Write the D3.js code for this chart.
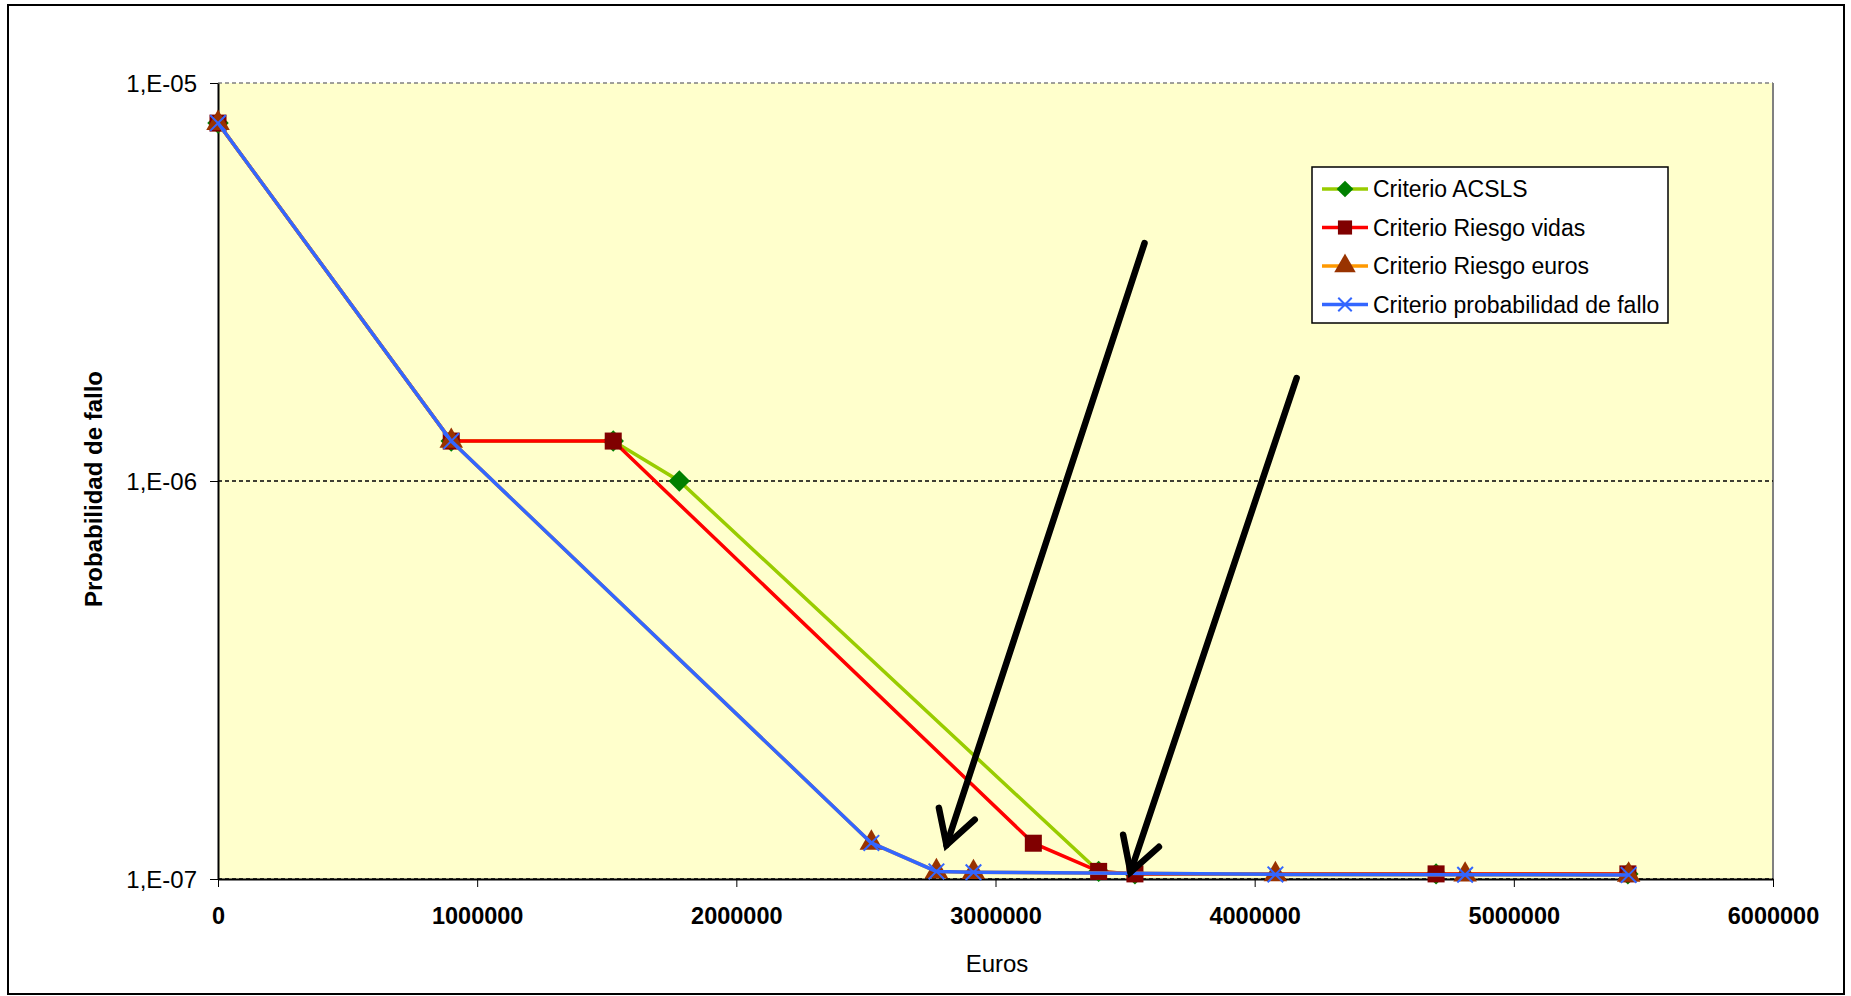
<!DOCTYPE html>
<html><head><meta charset="utf-8">
<script src="https://cdn.jsdelivr.net/npm/d3@7"></script>
<style>body{margin:0;background:#fff}svg{display:block;font-family:"Liberation Sans",Arial,sans-serif}</style>
</head><body><svg id="c" width="1851" height="996"></svg>
<script>
// ---- data ----
const seriesNames = ["Criterio ACSLS","Criterio Riesgo vidas","Criterio Riesgo euros","Criterio probabilidad de fallo"];
const xACSLS = [0, 900000, 1525000, 1780000, 3398000, 3538000, 4700000, 5440000];
const yACSLS = [7.93e-6, 1.26e-6, 1.26e-6, 1.0e-6, 1.045e-7, 1.03e-7, 1.03e-7, 1.03e-7];
const xVidas = [0, 900000, 1525000, 3146000, 3398000, 3538000, 4700000, 5440000];
const yVidas = [7.93e-6, 1.26e-6, 1.26e-6, 1.23e-7, 1.045e-7, 1.03e-7, 1.03e-7, 1.03e-7];
const xEuros = [0, 900000, 2521000, 2772000, 2915000, 4080000, 4812000, 5443000];
const yEuros = [7.93e-6, 1.26e-6, 1.232e-7, 1.045e-7, 1.04e-7, 1.027e-7, 1.025e-7, 1.024e-7];
const xProb = [0, 900000, 2521000, 2772000, 2915000, 4080000, 4812000, 5443000];
const yProb = [7.93e-6, 1.26e-6, 1.232e-7, 1.045e-7, 1.04e-7, 1.027e-7, 1.025e-7, 1.024e-7];
const xTicks = [0, 1000000, 2000000, 3000000, 4000000, 5000000, 6000000];
const yTicks = [1e-7, 1e-6, 1e-5];
const yTickLabels = ["1,E-07", "1,E-06", "1,E-05"];
// annotation arrows in data units
const arrowStart = [[3575000, 3.96e-6], [4162000, 1.815e-6]];
const arrowEnd = [[2811000, 1.217e-7], [3521000, 1.041e-7]];

const svg = d3.select("#c");
const L = 218, R = 1773, T = 83, B = 879;
const x = d3.scaleLinear().domain([0, 6000000]).range([L, R]);
const y = d3.scaleLog().domain([1e-7, 1e-5]).range([B, T]);

svg.append("rect").attr("x", 8).attr("y", 5).attr("width", 1836).attr("height", 989)
  .attr("fill", "#fff").attr("stroke", "#000").attr("stroke-width", 2);
svg.append("rect").attr("x", L).attr("y", T).attr("width", R - L).attr("height", B - T).attr("fill", "#FFFFCC");
svg.append("line").attr("x1", R).attr("x2", R).attr("y1", T).attr("y2", B).attr("stroke", "#808080").attr("stroke-width", 2);
svg.append("g").selectAll("line").data(yTicks).join("line")
  .attr("x1", L).attr("x2", R).attr("y1", d => y(d)).attr("y2", d => y(d))
  .attr("stroke", d => d === 1e-5 ? "#808080" : "#000").attr("stroke-width", 1.3)
  .attr("stroke-dasharray", "4,3");

const ax = svg.append("g").attr("transform", `translate(0,${B})`)
  .call(d3.axisBottom(x).tickValues(xTicks).tickFormat(d3.format("d")).tickSize(8).tickSizeOuter(0));
ax.select(".domain").attr("stroke", "#000").attr("stroke-width", 2);
ax.selectAll("text").attr("font-size", "23.5px").attr("font-weight", "bold").attr("fill", "#000").attr("dy", "1.45em");
const ay = svg.append("g").attr("transform", `translate(${L},0)`)
  .call(d3.axisLeft(y).tickValues(yTicks).tickFormat((d, i) => yTickLabels[i]).tickSize(8).tickSizeOuter(0));
ay.select(".domain").attr("stroke", "#000").attr("stroke-width", 2);
ay.selectAll("text").attr("font-size", "24px").attr("fill", "#000").attr("x", -21).attr("dy", "0.35em");

svg.append("text").attr("x", 997).attr("y", 972).attr("text-anchor", "middle").attr("font-size", "24px").text("Euros");
svg.append("text").attr("transform", "translate(102,489) rotate(-90)").attr("text-anchor", "middle")
  .attr("font-size", "24px").attr("font-weight", "bold").text("Probabilidad de fallo");

const series = [
  {xs: xACSLS, ys: yACSLS, line: "#99CC00", mark: "#008000", sym: d3.symbolSquare, size: 230, rot: 45},
  {xs: xVidas, ys: yVidas, line: "#FF0000", mark: "#800000", sym: d3.symbolSquare, size: 290, rot: 0},
  {xs: xEuros, ys: yEuros, line: "#FF9900", mark: "#993300", sym: d3.symbolTriangle, size: 240, rot: 0},
  {xs: xProb, ys: yProb, line: "#3366FF", mark: "#3366FF", sym: d3.symbolX, size: 160, rot: 0}
];
const lineGen = d3.line().x(d => x(d[0])).y(d => y(d[1]));
series.forEach(s => {
  const pts = s.xs.map((v, i) => [v, s.ys[i]]);
  const g = svg.append("g");
  g.append("path").attr("d", lineGen(pts)).attr("fill", "none").attr("stroke", s.line).attr("stroke-width", 3.5);
  g.selectAll("path.m").data(pts).join("path").attr("class", "m")
    .attr("transform", d => `translate(${x(d[0])},${y(d[1])}) rotate(${s.rot})`)
    .attr("d", d3.symbol().type(s.sym).size(s.size))
    .attr("fill", s.sym === d3.symbolX ? "none" : s.mark)
    .attr("stroke", s.sym === d3.symbolX ? s.mark : "none").attr("stroke-width", 2);
});

arrowStart.forEach((a, i) => {
  const x0 = x(a[0]), y0 = y(a[1]), x1 = x(arrowEnd[i][0]), y1 = y(arrowEnd[i][1]);
  const ang = Math.atan2(y1 - y0, x1 - x0), len = 38, spread = 0.52;
  const g = svg.append("g").attr("stroke", "#000").attr("stroke-width", 6.5).attr("stroke-linecap", "round").attr("fill", "none");
  g.append("line").attr("x1", x0).attr("y1", y0).attr("x2", x1).attr("y2", y1);
  g.append("polyline").attr("stroke-linejoin", "miter").attr("points", [
    [x1 - len * Math.cos(ang - spread), y1 - len * Math.sin(ang - spread)],
    [x1, y1],
    [x1 - len * Math.cos(ang + spread), y1 - len * Math.sin(ang + spread)]
  ].map(p => p.join(",")).join(" "));
});

const lg = svg.append("g");
lg.append("rect").attr("x", 1312).attr("y", 167).attr("width", 356).attr("height", 156)
  .attr("fill", "#fff").attr("stroke", "#000").attr("stroke-width", 1.5);
const legSizes = [140, 200, 200, 120];
series.forEach((s, i) => {
  const cy = 189 + i * 38.5;
  lg.append("line").attr("x1", 1322).attr("x2", 1368).attr("y1", cy).attr("y2", cy).attr("stroke", s.line).attr("stroke-width", 3.5);
  lg.append("path").attr("transform", `translate(1345,${cy}) rotate(${s.rot})`).attr("d", d3.symbol().type(s.sym).size(legSizes[i]))
    .attr("fill", s.sym === d3.symbolX ? "none" : s.mark)
    .attr("stroke", s.sym === d3.symbolX ? s.mark : "none").attr("stroke-width", 2);
  lg.append("text").attr("x", 1373).attr("y", cy).attr("dy", "0.35em").attr("font-size", "23px").text(seriesNames[i]);
});
</script></body></html>
